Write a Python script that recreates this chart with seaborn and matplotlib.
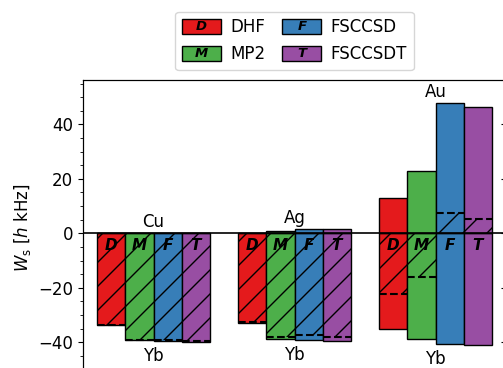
import numpy as np
import pandas as pd
import matplotlib
matplotlib.use("Agg")
import matplotlib.pyplot as plt
import seaborn as sns
from matplotlib.patches import Rectangle, Patch
from matplotlib.text import Text
from matplotlib.legend_handler import HandlerBase
from matplotlib.ticker import MultipleLocator
from matplotlib.colors import to_rgba

# Hyperfine-type contributions W_s (h kHz) for YbX molecules
atoms = ["Cu", "Ag", "Au"]
methods = ["DHF", "MP2", "FSCCSD", "FSCCSDT"]
letters = ["D", "M", "F", "T"]
colors = ["#e41a1c", "#4daf4a", "#377eb8", "#984ea3"]

# Yb-centred contribution, per method
yb_cu = [-33.6, -39.2, -39.4, -39.8]
yb_ag = [-33.0, -38.9, -39.1, -39.7]
yb_au = [-35.2, -38.9, -40.5, -41.1]

# partner-atom contribution, per method
x_cu = [0.1, 0.1, 0.1, 0.1]
x_ag = [0.3, 0.8, 1.6, 1.6]
x_au = [12.8, 23.0, 47.9, 46.3]

df = pd.DataFrame({
    "atom": np.repeat(atoms, len(methods)),
    "method": methods * len(atoms),
    "yb": yb_cu + yb_ag + yb_au,
    "partner": x_cu + x_ag + x_au,
})
df["total"] = df["yb"] + df["partner"]

DPI = 72
S = 100 / DPI  # size scale so that point sizes give the intended pixel sizes

sns.set_style("ticks")
plt.rcParams.update({
    "font.family": ["DejaVu Sans"],
    "font.size": 12 * S,
    "text.color": "black",
    "axes.labelcolor": "black",
    "axes.edgecolor": "black",
    "ytick.color": "black",
    "xtick.color": "black",
    "hatch.linewidth": 1.0 * S,
    "axes.linewidth": 0.8 * S,
    "patch.linewidth": 1.0 * S,
    "ytick.major.size": 3.5 * S,
    "ytick.minor.size": 2.0 * S,
    "ytick.major.width": 0.8 * S,
    "ytick.minor.width": 0.6 * S,
    "ytick.major.pad": 3.5 * S,
    "ytick.minor.pad": 3.4 * S,
    "axes.labelpad": 4.0 * S,
})

fig = plt.figure(figsize=(503 / DPI, 368 / DPI), dpi=DPI)
ylo, yhi = -52, 56.3
ax = fig.add_axes([83 / 503, -0.019, 423 / 503, 0.8016])

kw = dict(x="atom", hue="method", order=atoms, hue_order=methods,
          palette=colors, saturation=1, errorbar=None, legend=False,
          ax=ax, edgecolor="black", linewidth=1.0 * S, width=0.8)

sns.barplot(data=df, y="yb", **kw)
n_yb = len(ax.patches)
sns.barplot(data=df, y="partner", **kw)
n_part = len(ax.patches)
sns.barplot(data=df, y="total", **kw)

yb_bars = ax.patches[:n_yb]
total_bars = ax.patches[n_part:]

# net value: hatched region from zero plus dashed marker
for p in total_bars:
    p.set_facecolor("none")
    p.set_edgecolor("black")
    p.set_linewidth(0)
    p.set_hatch("/")
    p.set_zorder(1.5)
    ax.hlines(p.get_height(), p.get_x(), p.get_x() + p.get_width(),
              colors="black", linestyles="--", linewidth=1.5 * S, zorder=2.5)

# method letters inside the bars
rgb = [to_rgba(c) for c in colors]
for p in yb_bars:
    fc = p.get_facecolor()
    idx = int(np.argmin([np.sum(np.abs(np.array(fc) - np.array(c))) for c in rgb]))
    cx = p.get_x() + p.get_width() / 2
    ax.annotate(letters[idx], xy=(cx, 0), xytext=(0, -8.8 * S),
                textcoords="offset points", ha="center", va="center",
                fontsize=11 * S, fontweight="bold", fontstyle="italic",
                color="black", zorder=4)

ax.axhline(0, color="black", linewidth=1.2 * S, zorder=3)

# group labels: partner atom above, Yb below
for i, atom in enumerate(atoms):
    sub = df[df["atom"] == atom]
    top = max(sub["partner"].max(), 0)
    bot = sub["yb"].min()
    ax.annotate(atom, xy=(i, top), xytext=(0, 1.5 * S), textcoords="offset points",
                ha="center", va="bottom", fontsize=12 * S)
    ax.annotate("Yb", xy=(i, bot), xytext=(0, -3.5 * S), textcoords="offset points",
                ha="center", va="top", fontsize=12 * S)

ax.set_xlim(-0.5, 2.5)
ax.set_ylim(ylo, yhi)
ax.set_xticks([])
ax.set_xlabel("")
ax.yaxis.set_major_locator(MultipleLocator(20))
ax.yaxis.set_minor_locator(MultipleLocator(5))
ax.tick_params(axis="y", which="both", direction="out", labelsize=12 * S)
ax.set_ylabel(r"$W_\mathrm{s}$ [$h$ kHz]", fontsize=12 * S)

ax2 = ax.twinx()
ax2.set_ylim(ylo, yhi)
ax2.yaxis.set_major_locator(MultipleLocator(20))
ax2.yaxis.set_minor_locator(MultipleLocator(5))
ax2.tick_params(axis="y", which="both", direction="in", labelright=False)


class LetterPatchHandler(HandlerBase):
    def __init__(self, letter):
        super().__init__()
        self.letter = letter

    def create_artists(self, legend, orig_handle, xdescent, ydescent,
                       width, height, fontsize, trans):
        rect = Rectangle((-xdescent, -ydescent), width, height,
                         facecolor=orig_handle.get_facecolor(),
                         edgecolor="black", linewidth=1.0 * S, transform=trans)
        txt = Text(-xdescent + width / 2, -ydescent + height / 2, self.letter,
                   ha="center", va="center", fontsize=9.5 * S, color="black",
                   fontweight="bold", fontstyle="italic", transform=trans)
        return [rect, txt]


handles = [Patch(facecolor=c, label=m) for c, m in zip(colors, methods)]
handler_map = {h: LetterPatchHandler(l) for h, l in zip(handles, letters)}
ax.legend(handles=handles, labels=methods, handler_map=handler_map,
          loc="lower center", bbox_to_anchor=(0.5, 1.0), ncol=2,
          fontsize=12 * S, handlelength=2.35, handleheight=1.05,
          handletextpad=0.55, columnspacing=1.0, labelspacing=0.55,
          borderaxespad=0.6)

fig.savefig("out.png", dpi=DPI)
